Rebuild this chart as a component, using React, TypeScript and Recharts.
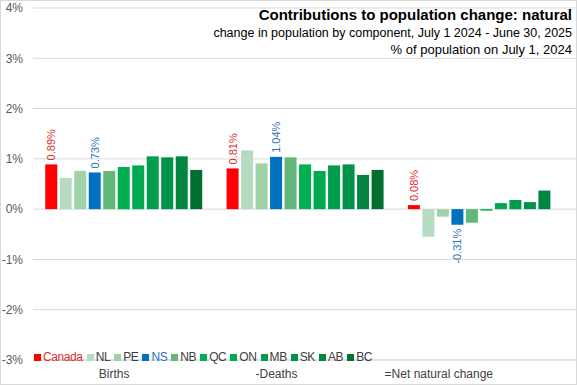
import { BarChart, Bar, XAxis, YAxis, CartesianGrid, LabelList } from 'recharts';

// categories on the x axis
const components = ['Births', '-Deaths', '=Net natural change'];

// one series per region, values in % of population on July 1, 2024
const regions = ['Canada', 'NL', 'PE', 'NS', 'NB', 'QC', 'ON', 'MB', 'SK', 'AB', 'BC'];
const births = [0.89, 0.62, 0.76, 0.73, 0.76, 0.84, 0.87, 1.05, 1.03, 1.05, 0.78];
const deaths = [0.81, 1.17, 0.91, 1.04, 1.03, 0.89, 0.76, 0.87, 0.89, 0.68, 0.78];
const netChange = [0.08, -0.55, -0.15, -0.31, -0.27, -0.03, 0.12, 0.18, 0.14, 0.37, 0.0];

const regionColors = [
    '#ff0000', '#b5dcc0', '#a0d2a8', '#0070c0', '#62b87a', '#00b050',
    '#00a84f', '#009e4a', '#00924a', '#008640', '#006f30'
];

// only these series get a value label
const labelled: Record<string, string> = { Canada: '#e32b2b', NS: '#2e75b6' };

const yTicks = [-3, -2, -1, 0, 1, 2, 3, 4];

const font = '"Liberation Sans", Arial, sans-serif';

const chartData = components.map((name, i) => {
    const row: Record<string, string | number> = { name };
    const src = [births, deaths, netChange][i];
    regions.forEach((r, j) => {
        row[r] = src[j];
    });
    return row;
});

function makeLabel(color: string) {
    return (props: any) => {
        const { x, y, width, height, value } = props;
        const top = Math.min(y, y + height);
        const bottom = Math.max(y, y + height);
        const cx = x + width / 2;
        const neg = value < 0;
        const ay = neg ? bottom + 4 : top - 4;
        return (
            <text
                x={cx}
                y={ay}
                transform={`rotate(-90, ${cx}, ${ay})`}
                textAnchor={neg ? 'end' : 'start'}
                dominantBaseline="central"
                fill={color}
                fontSize={11}
                fontFamily={font}
            >
                {`${value.toFixed(2)}%`}
            </text>
        );
    };
}

export default function App() {
    return (
        <div style={{ position: 'absolute', left: 0, top: 0, width: 577, height: 385, background: '#fff', fontFamily: font }}>
            <BarChart
                width={577}
                height={385}
                data={chartData}
                margin={{ top: 8, right: 0, left: 0, bottom: 0 }}
                barGap={2.5}
                barCategoryGap="6.75%"
            >
                <CartesianGrid vertical={false} stroke="#d9d9d9" />
                <XAxis dataKey="name" hide height={0} />
                {/* category labels sit a bit left of the bar groups, like the original */}
                <XAxis
                    xAxisId="labels"
                    dataKey="name"
                    height={25}
                    padding={{ left: 0, right: 57 }}
                    tickLine={false}
                    axisLine={{ stroke: '#d9d9d9' }}
                    tick={{ fill: '#404040', fontSize: 12, fontFamily: font }}
                    tickMargin={3}
                />
                <YAxis
                    domain={[-3, 4]}
                    ticks={yTicks}
                    width={33}
                    tickLine={false}
                    axisLine={false}
                    tick={{ fill: '#595959', fontSize: 12, fontFamily: font }}
                    tickFormatter={(v) => `${v}%`}
                    tickMargin={4}
                />
                {regions.map((r, i) => (
                    <Bar key={r} dataKey={r} fill={regionColors[i]} isAnimationActive={false}>
                        {labelled[r] ? <LabelList dataKey={r} content={makeLabel(labelled[r])} /> : null}
                    </Bar>
                ))}
            </BarChart>

            <div style={{ position: 'absolute', right: 5, top: 5, textAlign: 'right', color: '#000', lineHeight: '16.5px' }}>
                <div style={{ fontWeight: 'bold', fontSize: 15, lineHeight: '20px' }}>Contributions to population change: natural</div>
                <div style={{ fontSize: 12.5 }}>change in population by component, July 1 2024 - June 30, 2025</div>
                <div style={{ fontSize: 13 }}>% of population on July 1, 2024</div>
            </div>

            <div style={{ position: 'absolute', left: 34, top: 350, display: 'flex', gap: 4, fontSize: 12, letterSpacing: -0.4, alignItems: 'center' }}>
                {regions.map((r, i) => (
                    <div key={r} style={{ display: 'flex', alignItems: 'center', gap: 2, color: labelled[r] ? labelled[r] : '#404040' }}>
                        <span style={{ width: 7, height: 7, background: regionColors[i], display: 'inline-block' }} />
                        <span>{r}</span>
                    </div>
                ))}
            </div>

            <div style={{ position: 'absolute', inset: 0, border: '1px solid #d9d9d9', pointerEvents: 'none' }} />
        </div>
    );
}
